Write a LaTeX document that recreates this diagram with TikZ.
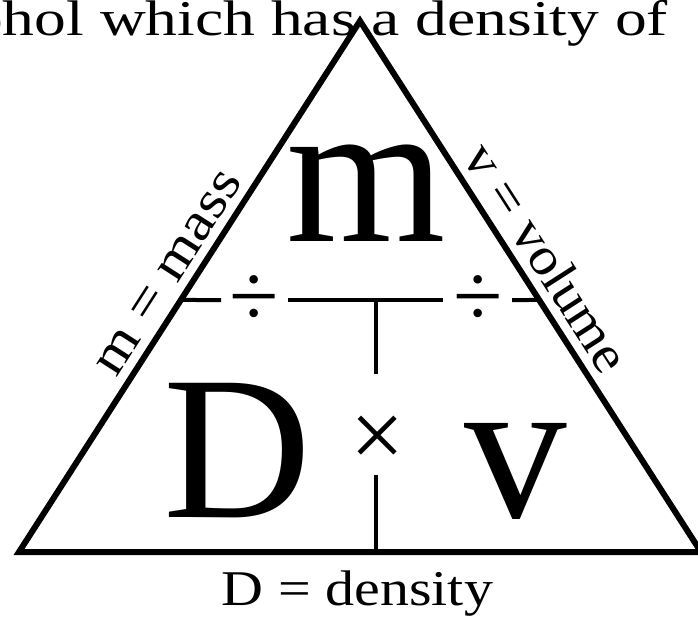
\documentclass[tikz,border=0pt]{standalone}
\usepackage{fontspec}
\setmainfont{Liberation Serif}
\usepackage{graphicx}
\usetikzlibrary{calc}
\begin{document}
\begin{tikzpicture}[x=1pt,y=-1pt,
  edge/.style={line width=6pt, line join=miter},
  inner/.style={line width=4pt},
  big/.style={font=\fontsize{205}{205}\selectfont, inner sep=0pt, anchor=base},
  lbl/.style={font=\fontsize{50}{50}\selectfont, inner sep=0pt},
  side/.style={font=\fontsize{53}{53}\selectfont, inner sep=0pt, anchor=south},
  sym/.style={font=\fontsize{90}{90}\selectfont, inner sep=0pt},
]
\useasboundingbox (0,0) rectangle (698,616);
\clip (0,0) rectangle (698,616);
\fill[white] (0,0) rectangle (698,616);
% triangle
\coordinate (L) at (19,552);
\coordinate (A) at (360,21);
\coordinate (R) at (701,552);
\draw[edge] (L) -- (A) -- (R) -- cycle;
% top clipped text
\node[lbl, anchor=base west] (top) at (-103,35) {\scalebox{1.27}[1]{alcohol which has a density of}};
% horizontal divider
\coordinate (hl) at ($(L)!0.4746!(A)$);
\coordinate (hr) at ($(R)!0.4746!(A)$);
\coordinate (h1) at (221,300);
\coordinate (h2) at (288,300);
\coordinate (h3) at (443,300);
\coordinate (h4) at (512,300);
\draw[inner] (hl) -- (h1);
\draw[inner] (h2) -- (h3);
\draw[inner] (h4) -- (hr);
\node[sym] (div1) at (254.5,301) {÷};
\node[sym] (div2) at (478,301) {÷};
% vertical divider
\coordinate (vt) at (376,300);
\coordinate (v1) at (376,374);
\coordinate (v2) at (376,475);
\coordinate (vb) at (376,552);
\draw[inner] (vt) -- (v1);
\draw[inner] (v2) -- (vb);
\node[sym, font=\fontsize{96}{96}\selectfont] (times) at (377.5,442) {×};
% big letters
\node[big] (m) at (366,241) {m};
\node[big] (D) at (238,517) {D};
\node[big] (v) at (516,517) {v};
% side labels
\coordinate (pl) at ($(L)!0.50!(A)$);
\coordinate (pr) at ($(A)!0.475!(R)$);
\node[side, rotate=57.29] (mass) at ($(pl)!11pt!90:(A)$) {\scalebox{1.15}[1]{m = mass}};
\node[side, rotate=-57.29] (vol) at ($(pr)!11pt!90:(R)$) {\scalebox{1.08}[1]{v = volume}};
% bottom label
\node[lbl, anchor=base] (dens) at (357.5,605) {\scalebox{1.16}[1]{D = density}};
\end{tikzpicture}
\end{document}
